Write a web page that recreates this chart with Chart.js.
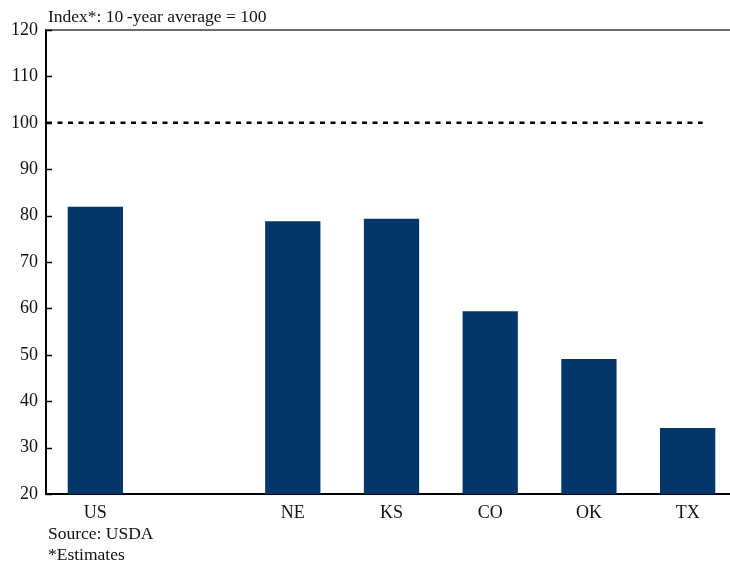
<!DOCTYPE html>
<html><head><meta charset="utf-8">
<script src="https://cdn.jsdelivr.net/npm/chart.js@4"></script>
<style>
html,body{margin:0;padding:0;background:#fff;overflow:hidden;width:730px;height:564px;}
#wrap{position:absolute;left:0;top:0;width:737px;height:564px;}
</style></head>
<body>
<div id="wrap"><canvas id="c" width="737" height="564"></canvas></div>
<script>
const categories = ["US", "", "NE", "KS", "CO", "OK", "TX"];
const indexValues = [81.9, null, 78.8, 79.3, 59.4, 49.1, 34.2];
const referenceLevel = [100];
const yTicks = [20, 30, 40, 50, 60, 70, 80, 90, 100, 110, 120];
const titleText = "Index*: 10\u2009-year average = 100";
const notes = ["Source: USDA", "*Estimates"];

const FONT = "'Liberation Serif', 'Times New Roman', serif";

const decor = {
  id: 'decor',
  beforeDatasetsDraw(chart) {
    const {ctx, chartArea} = chart;
    ctx.save();
    ctx.strokeStyle = '#6e6e6e';
    ctx.lineWidth = 2;
    ctx.beginPath();
    ctx.moveTo(chartArea.left, chartArea.top);
    ctx.lineTo(chartArea.right + 10, chartArea.top);
    ctx.stroke();
    ctx.restore();
  },
  afterDatasetsDraw(chart) {
    const {ctx, chartArea, scales} = chart;
    const y = scales.y, x = scales.x;
    ctx.save();
    ctx.strokeStyle = '#000';
    ctx.lineWidth = 1.5;
    yTicks.forEach(v => {
      const py = Math.round(y.getPixelForValue(v)) + 0.5;
      ctx.beginPath();
      ctx.moveTo(chartArea.left, py);
      ctx.lineTo(chartArea.left + 6, py);
      ctx.stroke();
    });
    const ry = y.getPixelForValue(referenceLevel[0]);
    const xEnd = x.getPixelForValue(categories.length - 1) + 15;
    ctx.strokeStyle = '#000';
    ctx.lineWidth = 2.5;
    ctx.setLineDash([5, 5.5]);
    ctx.beginPath();
    ctx.moveTo(chartArea.left + 1, ry);
    ctx.lineTo(xEnd, ry);
    ctx.stroke();
    ctx.setLineDash([]);
    ctx.fillStyle = '#111';
    ctx.font = "17.5px " + FONT;
    ctx.textBaseline = 'alphabetic';
    ctx.textAlign = 'left';
    ctx.fillText(titleText, chartArea.left + 2, 22);
    ctx.fillText(notes[0], chartArea.left + 2, 539);
    ctx.fillText(notes[1], chartArea.left + 2, 560);
    ctx.restore();
  }
};

new Chart(document.getElementById('c'), {
  type: 'bar',
  data: {
    labels: categories,
    datasets: [{
      data: indexValues,
      backgroundColor: '#033669',
      borderWidth: 0,
      barPercentage: 0.56,
      categoryPercentage: 1.0
    }]
  },
  options: {
    responsive: false,
    animation: false,
    devicePixelRatio: 1,
    layout: { padding: { top: 30, left: 0, right: 0, bottom: 0 } },
    plugins: { legend: { display: false }, tooltip: { enabled: false }, title: { display: false } },
    scales: {
      x: {
        grid: { display: false, drawTicks: false },
        border: { display: true, color: '#000', width: 2 },
        ticks: { color: '#111', font: { family: FONT, size: 18 }, padding: 8, maxRotation: 0, autoSkip: false },
        afterFit(s) { s.height = 70; }
      },
      y: {
        min: 20, max: 120,
        afterBuildTicks(s) { s.ticks = yTicks.map(v => ({ value: v })); },
        grid: { display: false, drawTicks: false },
        border: { display: true, color: '#000', width: 2 },
        ticks: { color: '#111', font: { family: FONT, size: 18 }, padding: 8 },
        afterFit(s) { s.width = 46; }
      }
    }
  },
  plugins: [decor]
});
</script>
</body></html>
